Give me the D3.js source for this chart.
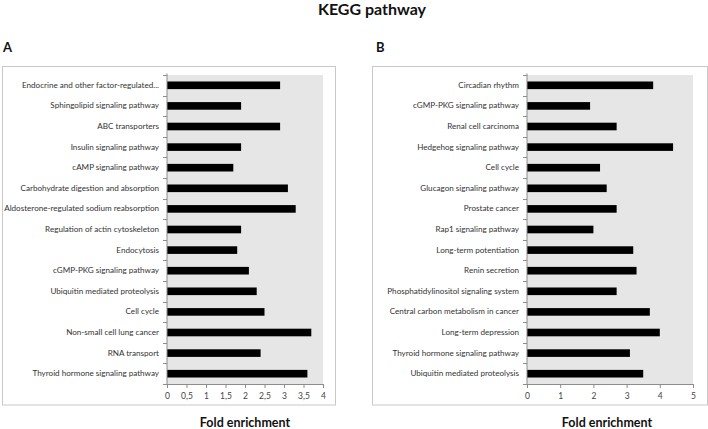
<!DOCTYPE html>
<html><head><meta charset="utf-8">
<script src="https://cdn.jsdelivr.net/npm/d3@7"></script>
<style>body{margin:0;background:#fff;}svg{display:block;font-family:Lato,"Open Sans",sans-serif;}</style>
</head><body><svg id="c" width="708" height="429"></svg>
<script>
const catsA = ["Endocrine and other factor-regulated...","Sphingolipid signaling pathway","ABC transporters","Insulin signaling pathway","cAMP signaling pathway","Carbohydrate digestion and absorption","Aldosterone-regulated sodium reabsorption","Regulation of actin cytoskeleton","Endocytosis","cGMP-PKG signaling pathway","Ubiquitin mediated proteolysis","Cell cycle","Non-small cell lung cancer","RNA transport","Thyroid hormone signaling pathway"];
const valsA = [2.9,1.9,2.9,1.9,1.7,3.1,3.3,1.9,1.8,2.1,2.3,2.5,3.7,2.4,3.6];
const ticksA = [0,0.5,1,1.5,2,2.5,3,3.5,4];
const catsB = ["Circadian rhythm","cGMP-PKG signaling pathway","Renal cell carcinoma","Hedgehog signaling pathway","Cell cycle","Glucagon signaling pathway","Prostate cancer","Rap1 signaling pathway","Long-term potentiation","Renin secretion","Phosphatidylinositol signaling system","Central carbon metabolism in cancer","Long-term depression","Thyroid hormone signaling pathway","Ubiquitin mediated proteolysis"];
const valsB = [3.8,1.9,2.7,4.4,2.2,2.4,2.7,2.0,3.2,3.3,2.7,3.7,4.0,3.1,3.5];
const ticksB = [0,1,2,3,4,5];

const svg = d3.select("#c");
svg.append("text").attr("x",372).attr("y",15).attr("text-anchor","middle")
  .attr("font-size",16).attr("font-weight","bold").attr("fill","#111").text("KEGG pathway");

function panel(letter, cats, vals, ticks, cfg){
  const g = svg.append("g");
  g.append("text").attr("x",cfg.lx).attr("y",52).attr("font-size",13).attr("font-weight","bold").attr("fill","#111").text(letter);
  g.append("rect").attr("x",cfg.bx0+0.5).attr("y",66.5).attr("width",cfg.bx1-cfg.bx0).attr("height",338.5)
    .attr("fill","#fff").attr("stroke","#c8c8c8").attr("stroke-width",1);
  const x = d3.scaleLinear().domain([0,ticks[ticks.length-1]]).range([cfg.x0,cfg.x1]);
  const y = d3.scaleBand().domain(cats).range([75,384]);
  g.append("rect").attr("x",x(0)).attr("y",75).attr("width",x.range()[1]-x(0)).attr("height",309).attr("fill","#e6e6e6");
  const bh = y.bandwidth()*0.37;
  g.selectAll(".bar").data(cats).join("rect")
    .attr("x",x(0)).attr("y",d=>y(d)+y.bandwidth()/2-bh/2)
    .attr("width",(d,i)=>x(vals[i])-x(0)).attr("height",bh).attr("fill","#000");
  const ya = g.append("g").attr("transform",`translate(${x(0)},0)`)
    .call(d3.axisLeft(y).tickSize(0).tickPadding(8));
  ya.select(".domain").attr("stroke","#8c8c8c").attr("d",`M0,73.5V384.5`);
  ya.selectAll("text").attr("font-size",8.1).attr("fill","#333").attr("font-family","Lato,sans-serif");
  const bounds = cats.map(d=>y(d)).concat([384]);
  ya.selectAll(".bt").data(bounds).join("line").attr("class","bt")
    .attr("x1",-4).attr("x2",0).attr("y1",d=>Math.round(d)+0.5).attr("y2",d=>Math.round(d)+0.5).attr("stroke","#8c8c8c");
  const xa = g.append("g").attr("transform","translate(0,384)")
    .call(d3.axisBottom(x).tickValues(ticks).tickSize(4).tickPadding(5)
      .tickFormat(d=>String(d).replace(".",",")));
  xa.select(".domain").attr("stroke","#8c8c8c");
  xa.selectAll("line").attr("stroke","#8c8c8c");
  xa.selectAll("text").attr("font-size",8.5).attr("fill","#444").attr("font-family","Lato,sans-serif");
  g.append("text").attr("x",cfg.fx).attr("y",427).attr("text-anchor","middle")
    .attr("font-size",12.5).attr("font-weight","bold").attr("fill","#111").text("Fold enrichment");
}
panel("A", catsA, valsA, ticksA, {lx:3,bx0:2,bx1:335,x0:167,x1:323,fx:245});
panel("B", catsB, valsB, ticksB, {lx:376,bx0:372,bx1:707,x0:527,x1:693,fx:607});
</script></body></html>
